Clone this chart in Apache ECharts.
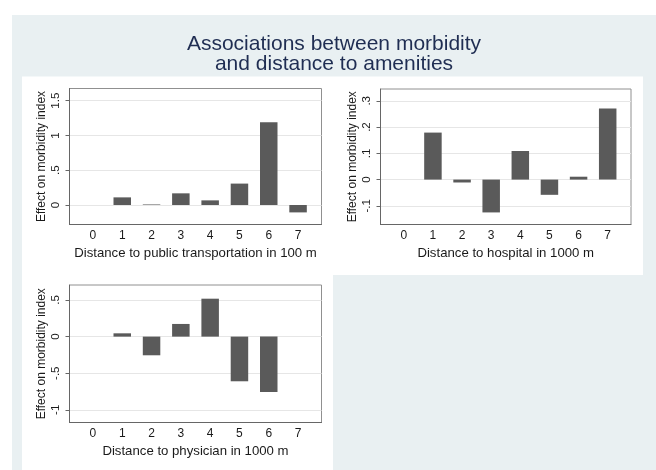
<!DOCTYPE html>
<html>
<head>
<meta charset="utf-8">
<script src="https://cdn.jsdelivr.net/npm/echarts@6/dist/echarts.min.js"></script>
<style>
html,body{margin:0;padding:0;background:#ffffff;}
#chart{width:656px;height:470px;}
</style>
</head>
<body>
<div id="chart"></div>
<script>
// ---- data ----
const categories = [0, 1, 2, 3, 4, 5, 6, 7];
const transportValues = [null, 0.11, 0.008, 0.168, 0.067, 0.308, 1.19, -0.106];
const hospitalValues  = [null, 0.179, -0.011, -0.125, 0.109, -0.058, 0.011, 0.271];
const physicianValues = [null, 0.045, -0.255, 0.173, 0.518, -0.61, -0.755, null];
const yTicksTransport = [0, 0.5, 1, 1.5];
const yTicksHospital  = [-0.1, 0, 0.1, 0.2, 0.3];
const yTicksPhysician = [-1, -0.5, 0, 0.5];
const xTitles = [
  'Distance to public transportation in 100 m',
  'Distance to hospital in 1000 m',
  'Distance to physician in 1000 m'
];
const yTitle = 'Effect on morbidity index';
const chartTitle = 'Associations between morbidity\nand distance to amenities';

// ---- helpers ----
function pairs(vals) {
  const out = [];
  categories.forEach((c, i) => { if (vals[i] !== null) out.push([c, vals[i]]); });
  return out;
}
function fmt(v) {
  let s = String(Math.round(v * 1000) / 1000);
  return s.replace(/^(-?)0\./, '$1.');
}
const FONT = 'Liberation Sans, Arial, sans-serif';
const TXT = '#1a1a1a';

const grids = [
  {left: 69.5, top: 88.5, right: 334.5, bottom: 245.5},
  {left: 380.5, top: 89, right: 25, bottom: 245.5},
  {left: 69.5, top: 285, right: 334.5, bottom: 47.5}
];
const yRanges = [[-0.28, 1.675], [-0.171, 0.345], [-1.173, 0.705]];
const yTicks = [yTicksTransport, yTicksHospital, yTicksPhysician];
const seriesVals = [transportValues, hospitalValues, physicianValues];

const option = {
  animation: false,
  backgroundColor: '#ffffff',
  graphic: [
    {type: 'rect', z: -10, shape: {x: 12, y: 15, width: 644, height: 455}, style: {fill: '#e9f0f2'}},
    {type: 'rect', z: -9, shape: {x: 22, y: 76.5, width: 621, height: 198.5}, style: {fill: '#ffffff'}},
    {type: 'rect', z: -9, shape: {x: 22, y: 275, width: 311, height: 195}, style: {fill: '#ffffff'}}
  ],
  title: {
    text: chartTitle,
    left: 329, top: 29, textAlign: 'center',
    textStyle: {fontFamily: FONT, fontSize: 21, fontWeight: 'normal', color: '#1f2d52', lineHeight: 20}
  },
  grid: grids.map(g => Object.assign({
    show: true, borderColor: '#909090', borderWidth: 1, backgroundColor: 'transparent',
    containLabel: false, outerBoundsMode: 'none'
  }, g)),
  xAxis: [0, 1, 2].map(i => ({
    type: 'value', gridIndex: i, min: -0.8, max: 7.8,
    name: xTitles[i], nameLocation: 'middle', nameGap: 22,
    nameTextStyle: {fontFamily: FONT, fontSize: 13.2, color: TXT},
    axisLine: {show: true, onZero: false, lineStyle: {color: '#666666', width: 1}},
    axisTick: {show: false, customValues: categories},
    splitLine: {show: false},
    axisLabel: {customValues: categories, margin: 5, fontFamily: FONT, fontSize: 12, color: TXT,
      formatter: v => String(v)}
  })),
  yAxis: [0, 1, 2].map(i => ({
    type: 'value', gridIndex: i, min: yRanges[i][0], max: yRanges[i][1],
    name: yTitle, nameLocation: 'middle', nameGap: 22,
    nameTextStyle: {fontFamily: FONT, fontSize: 12, color: TXT},
    axisLine: {show: true, onZero: false, lineStyle: {color: '#666666', width: 1}},
    axisTick: {show: true, length: 4, customValues: yTicks[i], lineStyle: {color: '#666666'}},
    splitLine: {show: true, lineStyle: {color: '#e6e6e6', width: 1}},
    axisLabel: {customValues: yTicks[i], rotate: 90, margin: 8, fontFamily: FONT, fontSize: 11.5, color: TXT,
      formatter: v => fmt(v)}
  })),
  series: [0, 1, 2].map(i => ({
    type: 'bar', xAxisIndex: i, yAxisIndex: i,
    data: pairs(seriesVals[i]),
    barWidth: 17.5,
    itemStyle: {color: '#5a5a5a'}
  }))
};

const chart = echarts.init(document.getElementById('chart'), null, {renderer: 'canvas'});
chart.setOption(option);
</script>
</body>
</html>
